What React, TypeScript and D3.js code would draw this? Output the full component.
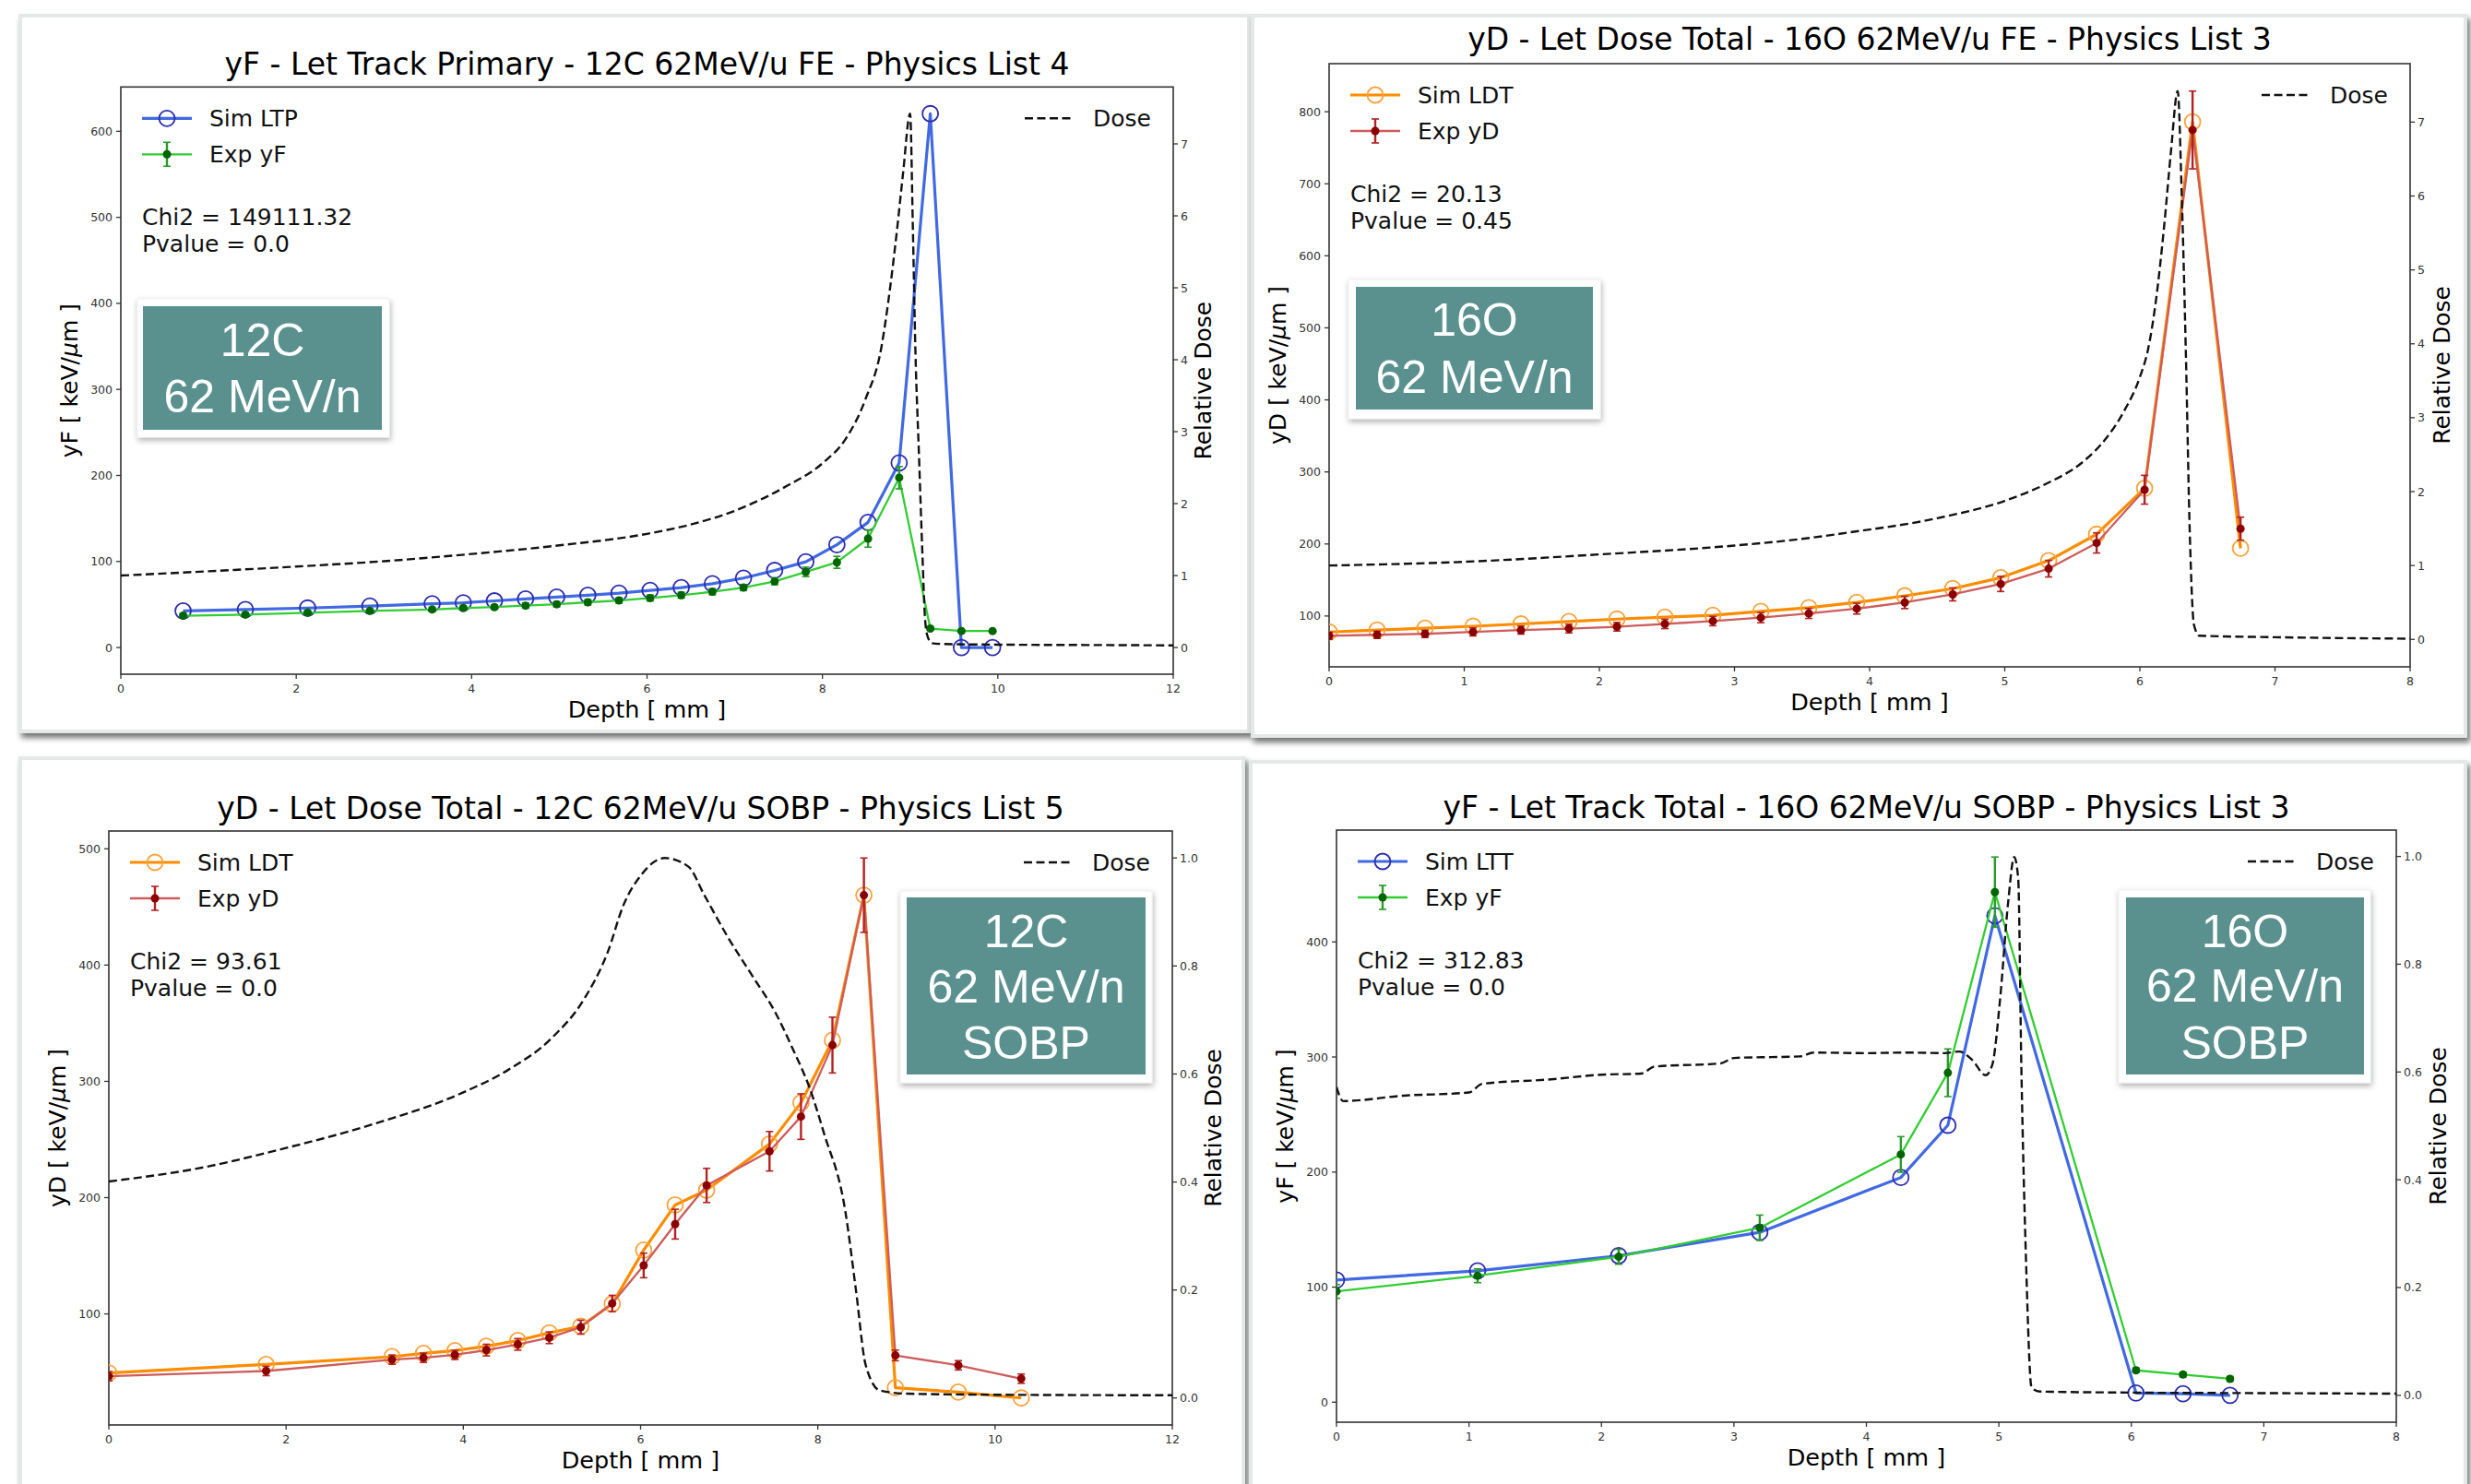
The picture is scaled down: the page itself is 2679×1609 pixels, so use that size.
import React from 'react';
import * as d3 from 'd3';

// ---------------- Panel A (top-left): yF - Let Track Primary - 12C FE ----------------
const aDepth = [0.71, 1.42, 2.13, 2.84, 3.55, 3.905, 4.26, 4.615, 4.97, 5.325, 5.68, 6.035, 6.39, 6.745, 7.1, 7.455, 7.81, 8.165, 8.52, 8.875, 9.23, 9.585, 9.94];
const aSimLTP = [42.6, 44.2, 45.9, 48.2, 50.9, 52.0, 54.2, 56.4, 58.7, 60.8, 63.1, 66.4, 69.7, 74.1, 80.7, 89.6, 99.6, 119.5, 145.5, 214.6, 620.5, 0, 0];
const aExpYF = [37.0, 38.2, 40.4, 42.6, 44.2, 45.9, 47.0, 48.7, 50.3, 52.6, 54.7, 57.5, 60.8, 64.8, 69.7, 76.9, 87.9, 99.0, 126.6, 197.4, 22.0, 19.2, 19.2];
const aExpYFErr = [2, 2, 2, 2, 2.5, 2.5, 2.5, 3, 3, 3, 3, 3.5, 3.5, 3.5, 3.5, 4, 5.5, 7, 10, 13, 1.5, 1.5, 1.5];
const aDoseDepth = [0, 1, 2, 3, 4, 5, 6, 6.5, 7, 7.25, 7.6, 8.0, 8.265, 8.49, 8.676, 8.75, 8.85, 8.92, 9.0, 9.03, 9.06, 9.1, 9.14, 9.17, 9.2, 9.25, 9.35, 10, 11, 12];
const aDose = [1.0, 1.06, 1.125, 1.2, 1.3, 1.42, 1.58, 1.71, 1.9, 2.03, 2.25, 2.56, 2.9, 3.45, 4.2, 4.8, 5.8, 6.6, 7.42, 5.9, 4.13, 2.7, 1.3, 0.4, 0.15, 0.06, 0.05, 0.04, 0.035, 0.03];

// ---------------- Panel B (top-right): yD - Let Dose Total - 16O FE ----------------
const bDepth = [0, 0.355, 0.71, 1.065, 1.42, 1.775, 2.13, 2.485, 2.84, 3.195, 3.55, 3.905, 4.26, 4.615, 4.97, 5.325, 5.68, 6.035, 6.39, 6.745];
const bSimLDT = [77.8, 80.5, 83.1, 85.8, 89.0, 92.3, 95.7, 98.3, 100.9, 106.3, 111.5, 118.8, 128.0, 138.0, 153.2, 176.9, 213.5, 277.4, 786.0, 194.0];
const bExpYD = [72.5, 73.9, 75.2, 77.9, 80.4, 82.5, 85.1, 89.0, 93.0, 97.7, 103.6, 110.2, 118.8, 130.0, 144.5, 165.7, 201.4, 275.3, 774.7, 221.2];
const bExpYDErr = [5, 5, 5, 5.5, 5.5, 6, 6, 6.5, 6.5, 7, 7, 7.5, 8.5, 9, 10.5, 11.5, 14, 20, 54, 16];
const bDoseDepth = [0, 1, 2, 3, 3.5, 3.82, 4.5, 5.0, 5.3, 5.59, 5.75, 5.88, 6.0, 6.06, 6.12, 6.18, 6.23, 6.28, 6.31, 6.34, 6.37, 6.40, 6.44, 7, 8];
const bDose = [1.0, 1.05, 1.15, 1.27, 1.36, 1.44, 1.64, 1.875, 2.1, 2.42, 2.72, 3.08, 3.55, 3.92, 4.6, 5.6, 6.6, 7.42, 6.0, 3.9, 1.4, 0.2, 0.05, 0.03, 0.01];

// ---------------- Panel C (bottom-left): yD - Let Dose Total - 12C SOBP ----------------
const cDepth = [0, 1.775, 3.195, 3.55, 3.905, 4.26, 4.615, 4.97, 5.325, 5.68, 6.035, 6.39, 6.745, 7.455, 7.81, 8.165, 8.52, 8.875, 9.585, 10.295];
const cSimLDT = [49.2, 56.6, 63.2, 66.1, 68.5, 72.2, 77.1, 83.7, 89.4, 108.6, 154.9, 193.7, 206.5, 246.1, 281.6, 335.3, 460.1, 36.5, 32.7, 27.7];
const cExpYD = [46.4, 50.9, 60.7, 62.3, 64.8, 68.9, 73.8, 79.5, 88.6, 109.0, 141.7, 177.2, 210.5, 239.9, 269.7, 331.2, 460.1, 64.3, 55.8, 44.3];
const cExpYDErr = [4, 4, 4, 4, 4, 5, 5, 5, 6, 7, 10.6, 12.8, 14.7, 17, 19.6, 24, 32, 4.6, 4, 4];
const cDoseDepth = [0, 1, 2, 3, 4, 4.5, 5, 5.36, 5.63, 5.81, 6.0, 6.27, 6.54, 6.72, 6.99, 7.26, 7.53, 7.71, 7.91, 8.07, 8.31, 8.43, 8.54, 8.7, 9, 10, 12];
const cDose = [0.401, 0.425, 0.463, 0.508, 0.566, 0.607, 0.667, 0.738, 0.826, 0.914, 0.967, 1.0, 0.984, 0.931, 0.852, 0.782, 0.711, 0.649, 0.573, 0.49, 0.346, 0.2, 0.061, 0.014, 0.008, 0.006, 0.005];

// ---------------- Panel D (bottom-right): yF - Let Track Total - 16O SOBP ----------------
const dDepth = [0, 1.065, 2.13, 3.195, 4.26, 4.615, 4.97, 6.035, 6.39, 6.745];
const dSimLTT = [106.2, 114.1, 127.3, 147.6, 195.3, 240.7, 422.7, 8.0, 7.4, 6.0];
const dExpYF = [96.3, 109.9, 126.4, 151.6, 215.3, 286.3, 443.3, 27.7, 24.0, 20.3];
const dExpYFErr = [6, 6, 6.5, 11, 15.5, 20.7, 30.5, 2, 2, 2];
const dDoseDepth = [0, 0.05, 0.5, 1.0, 1.1, 1.6, 2.0, 2.3, 2.4, 2.9, 3.0, 3.5, 3.6, 4.0, 4.3, 4.59, 4.7, 4.8, 4.9, 4.95, 5.01, 5.07, 5.116, 5.146, 5.17, 5.205, 5.247, 5.31, 6, 7, 8];
const dDose = [0.572, 0.546, 0.556, 0.562, 0.578, 0.586, 0.595, 0.597, 0.61, 0.616, 0.626, 0.629, 0.636, 0.635, 0.636, 0.635, 0.638, 0.622, 0.594, 0.613, 0.737, 0.915, 0.999, 0.959, 0.605, 0.25, 0.014, 0.007, 0.005, 0.004, 0.003];

// ---------------- Text ----------------
const titles = [
  'yF - Let Track Primary - 12C 62MeV/u FE - Physics List 4',
  'yD - Let Dose Total - 16O 62MeV/u FE - Physics List 3',
  'yD - Let Dose Total - 12C 62MeV/u SOBP - Physics List 5',
  'yF - Let Track Total - 16O 62MeV/u SOBP - Physics List 3',
];
const chi2Labels = ['Chi2 = 149111.32', 'Chi2 = 20.13', 'Chi2 = 93.61', 'Chi2 = 312.83'];
const pvalLabels = ['Pvalue = 0.0', 'Pvalue = 0.45', 'Pvalue = 0.0', 'Pvalue = 0.0'];
const badgeLines = [['12C', '62 MeV/n'], ['16O', '62 MeV/n'], ['12C', '62 MeV/n', 'SOBP'], ['16O', '62 MeV/n', 'SOBP']];

const FONT = 'DejaVu Sans, sans-serif';
const TEAL = '#5a918f';

const BLUE = { simLine: '#4169e1', simEdge: '#2c2cae', expLine: '#32cd32', expDot: '#006400', expErr: '#2a9a2a' };
const ORANGE = { simLine: '#ff8c00', simEdge: '#ffa23a', expLine: '#cd5c5c', expDot: '#8b0000', expErr: '#b22222' };

type Spec = {
  plot: { L: number; R: number; T: number; B: number };
  card: { x: number; y: number; w: number; h: number };
  titleY: number;
  title: string;
  xMax: number;
  xTickCount: number;
  rFmt: (v: number) => string;
  rLabelOff: number;
  depth: number[]; sim: number[]; exp: number[]; err: number[];
  doseDepth: number[]; dose: number[];
  simLabel: string; expLabel: string; yName: string;
  chi2: string; pval: string;
  badge: { ox: number; oy: number; ow: number; oh: number; ix: number; iy: number; iw: number; ih: number; cx: number; base: number[]; lines: string[] };
  col: typeof BLUE;
};

const specs: Spec[] = [
  {
    plot: { L: 131, R: 1272, T: 94.3, B: 731 }, card: { x: 22, y: 17, w: 1332, h: 776 }, titleY: 81, title: titles[0],
    xMax: 12, xTickCount: 6, rFmt: (v) => d3.format('d')(v), rLabelOff: 41,
    depth: aDepth, sim: aSimLTP, exp: aExpYF, err: aExpYFErr, doseDepth: aDoseDepth, dose: aDose,
    simLabel: 'Sim LTP', expLabel: 'Exp yF', yName: 'yF', chi2: chi2Labels[0], pval: pvalLabels[0],
    badge: { ox: 149, oy: 324, ow: 273, oh: 150, ix: 155, iy: 332, iw: 259, ih: 134, cx: 284.5, base: [386, 447], lines: badgeLines[0] },
    col: BLUE,
  },
  {
    plot: { L: 1441, R: 2613, T: 69, B: 723 }, card: { x: 1358, y: 17, w: 1315, h: 781 }, titleY: 54, title: titles[1],
    xMax: 8, xTickCount: 8, rFmt: (v) => d3.format('d')(v), rLabelOff: 43,
    depth: bDepth, sim: bSimLDT, exp: bExpYD, err: bExpYDErr, doseDepth: bDoseDepth, dose: bDose,
    simLabel: 'Sim LDT', expLabel: 'Exp yD', yName: 'yD', chi2: chi2Labels[1], pval: pvalLabels[1],
    badge: { ox: 1462, oy: 303, ow: 273, oh: 151, ix: 1470, iy: 311, iw: 257, ih: 133, cx: 1598.5, base: [364, 426], lines: badgeLines[1] },
    col: ORANGE,
  },
  {
    plot: { L: 118, R: 1271, T: 901, B: 1545 }, card: { x: 22, y: 822, w: 1326, h: 800 }, titleY: 888, title: titles[2],
    xMax: 12, xTickCount: 6, rFmt: (v) => d3.format('.1f')(v), rLabelOff: 53,
    depth: cDepth, sim: cSimLDT, exp: cExpYD, err: cExpYDErr, doseDepth: cDoseDepth, dose: cDose,
    simLabel: 'Sim LDT', expLabel: 'Exp yD', yName: 'yD', chi2: chi2Labels[2], pval: pvalLabels[2],
    badge: { ox: 976, oy: 966, ow: 273, oh: 208, ix: 983, iy: 973, iw: 259, ih: 192, cx: 1112.5, base: [1027, 1087, 1148], lines: badgeLines[2] },
    col: ORANGE,
  },
  {
    plot: { L: 1449, R: 2598, T: 900, B: 1542 }, card: { x: 1356, y: 826, w: 1317, h: 800 }, titleY: 887, title: titles[3],
    xMax: 8, xTickCount: 8, rFmt: (v) => d3.format('.1f')(v), rLabelOff: 54,
    depth: dDepth, sim: dSimLTT, exp: dExpYF, err: dExpYFErr, doseDepth: dDoseDepth, dose: dDose,
    simLabel: 'Sim LTT', expLabel: 'Exp yF', yName: 'yF', chi2: chi2Labels[3], pval: pvalLabels[3],
    badge: { ox: 2297, oy: 965, ow: 273, oh: 209, ix: 2305, iy: 973, iw: 258, ih: 192, cx: 2434, base: [1027, 1086, 1148], lines: badgeLines[3] },
    col: BLUE,
  },
];

const DASH = '9,4.5';

function Panel({ s, idx }: { s: Spec; idx: number }) {
  const { L, R, T, B } = s.plot;
  const x = d3.scaleLinear().domain([0, s.xMax]).range([L, R]);
  const lo = Math.min(...s.sim, ...s.exp.map((v, i) => v - s.err[i]));
  const hi = Math.max(...s.sim, ...s.exp.map((v, i) => v + s.err[i]));
  const pad = 0.05 * (hi - lo);
  const y = d3.scaleLinear().domain([lo - pad, hi + pad]).range([B, T]);
  const dLo = Math.min(0, ...s.dose);
  const dHi = Math.max(...s.dose);
  const dPad = 0.05 * (dHi - dLo);
  const yr = d3.scaleLinear().domain([dLo - dPad, dHi + dPad]).range([B, T]);

  const simPath = d3.line<number>().x((_, i) => x(s.depth[i])).y((v) => y(v))(s.sim) || '';
  const expPath = d3.line<number>().x((_, i) => x(s.depth[i])).y((v) => y(v))(s.exp) || '';
  const dosePath = d3.line<number>().x((_, i) => x(s.doseDepth[i])).y((v) => yr(v)).curve(d3.curveMonotoneX)(s.dose) || '';

  const xTicks = x.ticks(s.xTickCount);
  const yTicks = y.ticks(7).filter((t) => t >= y.domain()[0] && t <= y.domain()[1]);
  const rTicks = yr.ticks(dHi > 2 ? 8 : 6).filter((t) => t >= yr.domain()[0] && t <= yr.domain()[1]);
  const midY = (T + B) / 2;
  const midX = (L + R) / 2;
  const c = s.col;
  const clipId = `clip${idx}`;

  const legRow1 = T + 34;
  const legRow2 = T + 73;
  const capW = 4;

  return (
    <g>
      <rect x={s.card.x} y={s.card.y} width={s.card.w} height={s.card.h} fill="#fff" stroke="#e4e9e8" strokeWidth={4} filter="url(#cardShadow)" />
      <defs>
        <clipPath id={clipId}>
          <rect x={L} y={T} width={R - L} height={B - T} />
        </clipPath>
      </defs>
      <text x={midX} y={s.titleY} textAnchor="middle" fontFamily={FONT} fontSize={33} fill="#000">{s.title}</text>

      <rect x={L} y={T} width={R - L} height={B - T} fill="none" stroke="#333" strokeWidth={1.6} />

      {xTicks.map((t) => (
        <g key={`x${t}`}>
          <line x1={x(t)} x2={x(t)} y1={B} y2={B + 5} stroke="#333" strokeWidth={1.3} />
          <text x={x(t)} y={B + 19.5} textAnchor="middle" fontFamily={FONT} fontSize={12.5} fill="#333">{t}</text>
        </g>
      ))}
      {yTicks.map((t) => (
        <g key={`y${t}`}>
          <line x1={L - 5} x2={L} y1={y(t)} y2={y(t)} stroke="#333" strokeWidth={1.3} />
          <text x={L - 9} y={y(t)} dy="0.36em" textAnchor="end" fontFamily={FONT} fontSize={12.5} fill="#333">{t}</text>
        </g>
      ))}
      {rTicks.map((t) => (
        <g key={`r${t}`}>
          <line x1={R} x2={R + 5} y1={yr(t)} y2={yr(t)} stroke="#333" strokeWidth={1.3} />
          <text x={R + 8} y={yr(t)} dy="0.36em" textAnchor="start" fontFamily={FONT} fontSize={12.5} fill="#333">{s.rFmt(t)}</text>
        </g>
      ))}

      <text x={midX} y={B + 46.5} textAnchor="middle" fontFamily={FONT} fontSize={25.5} fill="#000">Depth [ mm ]</text>
      <text transform={`translate(${L - 47},${midY}) rotate(-90)`} textAnchor="middle" fontFamily={FONT} fontSize={25} fill="#000">
        {s.yName} [ keV/<tspan fontStyle="italic">μ</tspan>m ]
      </text>
      <text transform={`translate(${R + s.rLabelOff},${midY}) rotate(-90)`} textAnchor="middle" fontFamily={FONT} fontSize={25} fill="#000">Relative Dose</text>

      <g clipPath={`url(#${clipId})`}>
        <path d={simPath} fill="none" stroke={c.simLine} strokeWidth={3.2} strokeLinejoin="round" />
        {s.sim.map((v, i) => (
          <circle key={`s${i}`} cx={x(s.depth[i])} cy={y(v)} r={8.5} fill="none" stroke={c.simEdge} strokeWidth={1.8} />
        ))}
        <path d={expPath} fill="none" stroke={c.expLine} strokeWidth={2.3} strokeLinejoin="round" />
        {s.exp.map((v, i) => (
          <g key={`e${i}`}>
            <line x1={x(s.depth[i])} x2={x(s.depth[i])} y1={y(v - s.err[i])} y2={y(v + s.err[i])} stroke={c.expErr} strokeWidth={2.4} />
            <line x1={x(s.depth[i]) - capW} x2={x(s.depth[i]) + capW} y1={y(v - s.err[i])} y2={y(v - s.err[i])} stroke={c.expErr} strokeWidth={1.6} />
            <line x1={x(s.depth[i]) - capW} x2={x(s.depth[i]) + capW} y1={y(v + s.err[i])} y2={y(v + s.err[i])} stroke={c.expErr} strokeWidth={1.6} />
            <circle cx={x(s.depth[i])} cy={y(v)} r={4.5} fill={c.expDot} />
          </g>
        ))}
        <path d={dosePath} fill="none" stroke="#111" strokeWidth={2.4} strokeDasharray={DASH} />
      </g>

      <line x1={L + 23} x2={L + 77} y1={legRow1} y2={legRow1} stroke={c.simLine} strokeWidth={3.2} />
      <circle cx={L + 50} cy={legRow1} r={8.5} fill="none" stroke={c.simEdge} strokeWidth={1.8} />
      <text x={L + 96} y={legRow1 + 9} fontFamily={FONT} fontSize={25} fill="#111">{s.simLabel}</text>
      <line x1={L + 23} x2={L + 77} y1={legRow2} y2={legRow2} stroke={c.expLine} strokeWidth={2.3} />
      <line x1={L + 50} x2={L + 50} y1={legRow2 - 13} y2={legRow2 + 13} stroke={c.expErr} strokeWidth={2.4} />
      <line x1={L + 50 - capW} x2={L + 50 + capW} y1={legRow2 - 13} y2={legRow2 - 13} stroke={c.expErr} strokeWidth={1.6} />
      <line x1={L + 50 - capW} x2={L + 50 + capW} y1={legRow2 + 13} y2={legRow2 + 13} stroke={c.expErr} strokeWidth={1.6} />
      <circle cx={L + 50} cy={legRow2} r={4.5} fill={c.expDot} />
      <text x={L + 96} y={legRow2 + 9} fontFamily={FONT} fontSize={25} fill="#111">{s.expLabel}</text>

      <text x={L + 23} y={T + 150} fontFamily={FONT} fontSize={25} fill="#111">{s.chi2}</text>
      <text x={L + 23} y={T + 178.5} fontFamily={FONT} fontSize={25} fill="#111">{s.pval}</text>

      <line x1={R - 161} x2={R - 109} y1={T + 34} y2={T + 34} stroke="#111" strokeWidth={2.4} strokeDasharray={DASH} />
      <text x={R - 87} y={T + 43} fontFamily={FONT} fontSize={25} fill="#111">Dose</text>

      <rect x={s.badge.ox} y={s.badge.oy} width={s.badge.ow} height={s.badge.oh} fill="#fff" stroke="#eef0f0" strokeWidth={1} filter="url(#badgeShadow)" />
      <rect x={s.badge.ix} y={s.badge.iy} width={s.badge.iw} height={s.badge.ih} fill={TEAL} />
      {s.badge.lines.map((ln, i) => (
        <text key={`b${i}`} x={s.badge.cx} y={s.badge.base[i]} textAnchor="middle" fontFamily="Liberation Sans, Arial, sans-serif" fontSize={50} fill="#fff">{ln}</text>
      ))}
    </g>
  );
}

export default function App() {
  return (
    <svg width={2679} height={1609} viewBox="0 0 2679 1609" style={{ position: 'absolute', left: 0, top: 0, background: '#fff' }}>
      <defs>
        <filter id="cardShadow" x="-5%" y="-5%" width="110%" height="110%">
          <feDropShadow dx={3} dy={5} stdDeviation={3} floodColor="#000" floodOpacity={0.55} />
        </filter>
        <filter id="badgeShadow" x="-10%" y="-10%" width="120%" height="125%">
          <feDropShadow dx={1} dy={3} stdDeviation={3} floodColor="#000" floodOpacity={0.3} />
        </filter>
      </defs>
      <rect x={0} y={0} width={2679} height={1609} fill="#fff" />
      {specs.map((s, i) => (
        <Panel key={i} s={s} idx={i} />
      ))}
    </svg>
  );
}
